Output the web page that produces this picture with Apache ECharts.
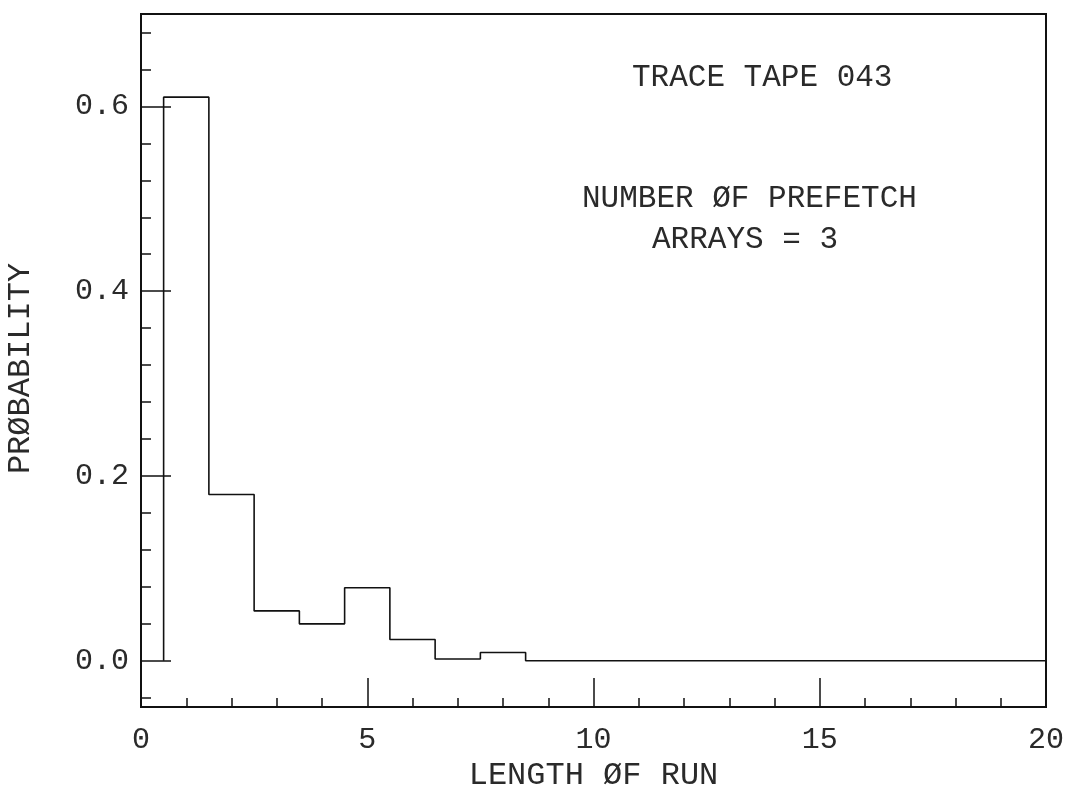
<!DOCTYPE html>
<html>
<head>
<meta charset="utf-8">
<script src="https://cdn.jsdelivr.net/npm/echarts@6/dist/echarts.min.js"></script>
<style>
  html, body { margin: 0; padding: 0; background: #fff; }
  #chart { width: 1071px; height: 787px; }
</style>
</head>
<body>
<div id="chart"></div>
<script>
// ---- data ----
const runLength = [1, 2, 3, 4, 5, 6, 7, 8, 9, 10, 11, 12, 13, 14, 15, 16, 17, 18, 19, 20];
const probability = [0.61, 0.18, 0.054, 0.040, 0.079, 0.023, 0.002, 0.009, 0, 0, 0, 0, 0, 0, 0, 0, 0, 0, 0, 0];
const yMajorTicks = [0, 0.2, 0.4, 0.6];
const yMinorTicks = [-0.04, 0.04, 0.08, 0.12, 0.16, 0.24, 0.28, 0.32, 0.36, 0.44, 0.48, 0.52, 0.56, 0.64, 0.68];
const annotations = ['TRACE TAPE 043', 'NUMBER ØF PREFETCH', 'ARRAYS = 3'];
const xAxisTitle = 'LENGTH ØF RUN';
const yAxisTitle = 'PRØBABILITY';

// histogram outline (step at bin edges)
const outline = [[runLength[0] - 0.5, 0]];
runLength.forEach((r, i) => outline.push([r - 0.5, probability[i]]));
outline.push([20, probability[probability.length - 1]]);

const FONT = '"Liberation Mono", "DejaVu Sans Mono", monospace';
const INK = '#2a2a2a';

const chart = echarts.init(document.getElementById('chart'), null, { renderer: 'canvas' });
chart.setOption({
  backgroundColor: '#ffffff',
  animation: false,
  grid: {
    left: 141, right: 25, top: 14, bottom: 80,
    outerBoundsMode: 'none', containLabel: false,
    show: true, borderColor: '#111', borderWidth: 2, backgroundColor: 'transparent'
  },
  xAxis: [
    {
      type: 'value', min: 0, max: 20, interval: 5, position: 'bottom',
      name: xAxisTitle, nameLocation: 'middle', nameGap: 41,
      nameTextStyle: { fontFamily: FONT, fontSize: 32, color: INK },
      axisLine: { show: true, onZero: false, lineStyle: { color: '#111', width: 2 } },
      axisTick: { show: true, inside: true, length: 29, lineStyle: { color: '#111', width: 1.5 } },
      axisLabel: { fontFamily: FONT, fontSize: 30, color: INK, margin: 18 },
      splitLine: { show: false }
    },
    {
      type: 'value', min: 0, max: 20, interval: 1, position: 'bottom',
      axisLine: { show: false, onZero: false },
      axisTick: { show: true, inside: true, length: 9, lineStyle: { color: '#111', width: 1.5 } },
      axisLabel: { show: false },
      splitLine: { show: false }
    }
  ],
  yAxis: [
    {
      type: 'value', min: -0.05, max: 0.70, position: 'left',
      name: yAxisTitle, nameLocation: 'middle', nameGap: 104, nameRotate: 90,
      nameTextStyle: { fontFamily: FONT, fontSize: 32, color: INK, padding: [0, 0, 0, -16] },
      axisLine: { show: true, onZero: false, lineStyle: { color: '#111', width: 2 } },
      axisTick: { show: true, inside: true, length: 30, customValues: yMajorTicks, lineStyle: { color: '#111', width: 1.5 } },
      axisLabel: {
        fontFamily: FONT, fontSize: 30, color: INK, margin: 12,
        customValues: yMajorTicks,
        formatter: v => v.toFixed(1)
      },
      splitLine: { show: false }
    },
    {
      type: 'value', min: -0.05, max: 0.70, position: 'left',
      axisLine: { show: false, onZero: false },
      axisTick: { show: true, inside: true, length: 10, customValues: yMinorTicks, lineStyle: { color: '#111', width: 1.5 } },
      axisLabel: { show: false },
      splitLine: { show: false }
    }
  ],
  graphic: [
    { type: 'text', x: 632, y: 78, style: { text: annotations[0], font: '31px ' + FONT, fill: INK, textVerticalAlign: 'middle' } },
    { type: 'text', x: 582, y: 199, style: { text: annotations[1], font: '31px ' + FONT, fill: INK, textVerticalAlign: 'middle' } },
    { type: 'text', x: 652, y: 240, style: { text: annotations[2], font: '31px ' + FONT, fill: INK, textVerticalAlign: 'middle' } }
  ],
  series: [
    {
      type: 'line', xAxisIndex: 0, yAxisIndex: 0,
      data: outline, step: 'end', symbol: 'none',
      lineStyle: { color: '#111', width: 1.6 },
      clip: true
    }
  ]
});
</script>
</body>
</html>
